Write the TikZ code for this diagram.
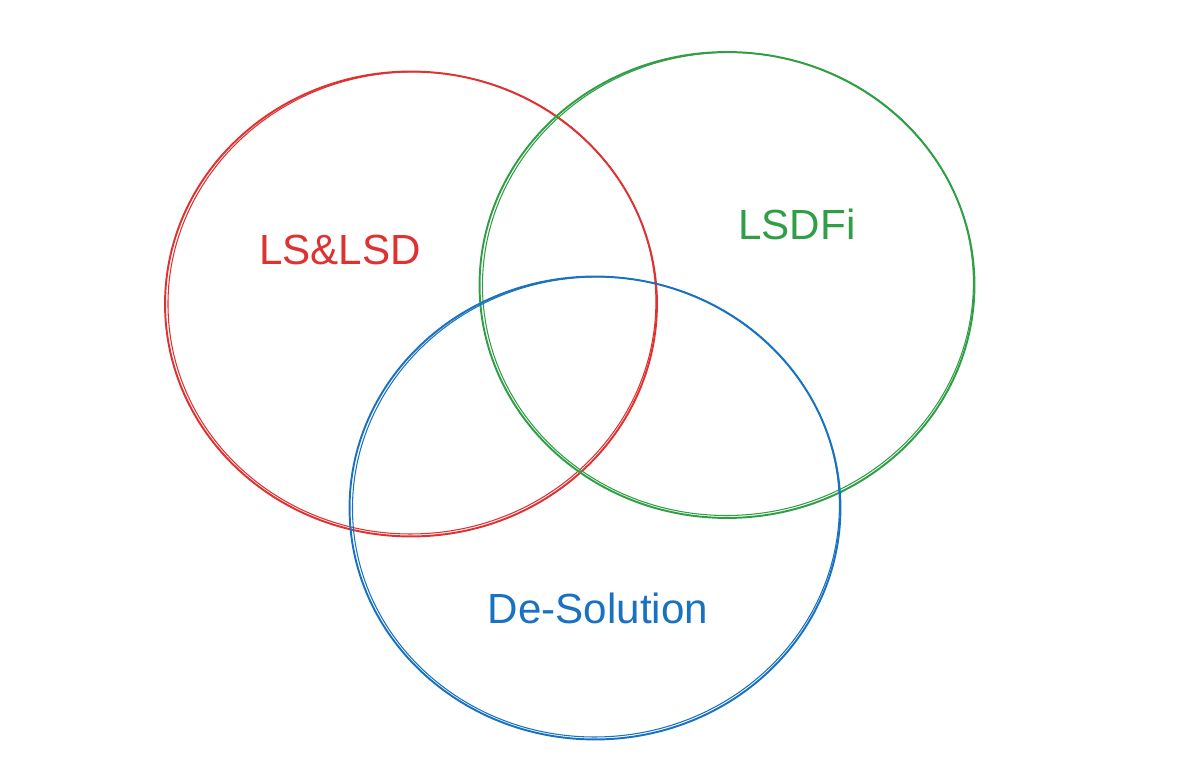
\documentclass[tikz,border=0pt]{standalone}
\usepackage{fontspec}
\setmainfont{Liberation Sans}
\usetikzlibrary{shapes.geometric}

\definecolor{setred}{HTML}{E03131}
\definecolor{setgreen}{HTML}{2F9E44}
\definecolor{setblue}{HTML}{1971C2}

\tikzset{
  setring/.style={draw=#1, ellipse, line width=1.1pt, inner sep=0pt},
  setlabel/.style={text=#1, font=\fontsize{24}{28}\selectfont, anchor=base}
}

\begin{document}
\begin{tikzpicture}[x=0.02cm, y=-0.02cm]
  \useasboundingbox (0,0) rectangle (1198,776);

  % Sets (sketchy double stroke)
  \foreach \n/\cx/\cy/\w/\h/\c in {red/411/304/9.84/9.30/setred,
                                    green/727/285/9.90/9.32/setgreen,
                                    blue/595/508/9.82/9.26/setblue} {
    \node[setring=\c, minimum width=\w cm, minimum height=\h cm] (\n) at (\cx, \cy) {};
    \draw[\c, line width=0.6pt, rotate around={3:(\cx,\cy)}]
      (\cx+1, \cy-1) ellipse ({\w*25 - 2} and {\h*25 - 1.5});
  }

  % Labels
  \node[setlabel=setred] (lsl) at (340, 265) {LS\&LSD};
  \node[setlabel=setgreen] (lsdfi) at (797, 240) {LSDFi};
  \node[setlabel=setblue] (desol) at (598, 624) {De-Solution};
\end{tikzpicture}
\end{document}
